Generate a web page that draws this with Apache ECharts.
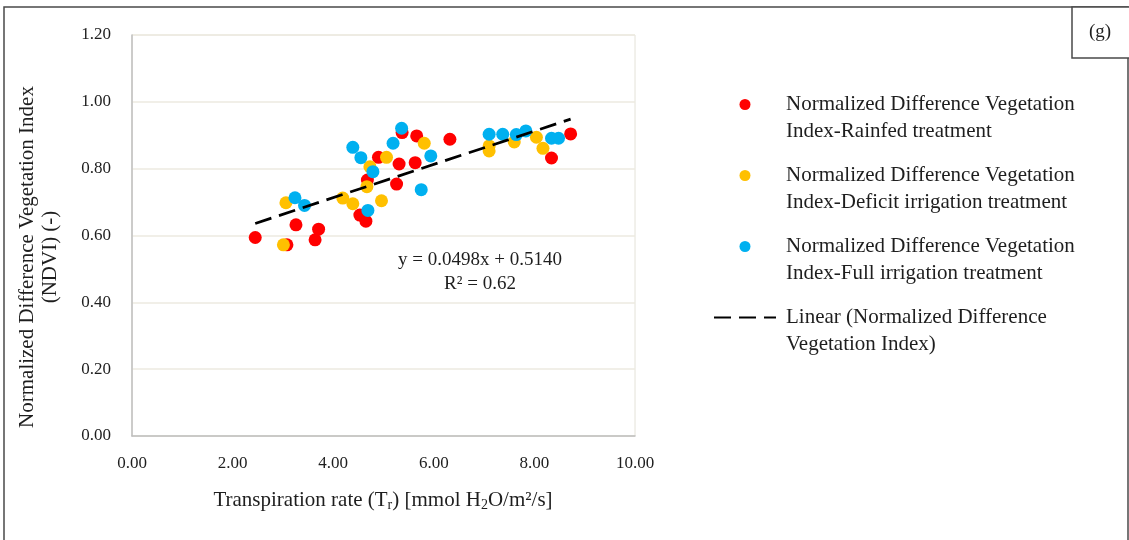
<!DOCTYPE html>
<html>
<head>
<meta charset="utf-8">
<script src="https://cdn.jsdelivr.net/npm/echarts@6/dist/echarts.min.js"></script>
<style>
  html, body { margin: 0; padding: 0; background: #ffffff; }
  #chart { width: 1129px; height: 540px; }
</style>
</head>
<body>
<div id="chart"></div>
<script>
// Transpiration rate (x) and NDVI (y) per treatment
const rainfedX = [2.45, 3.08, 3.26, 3.71, 3.64, 4.53, 4.65, 4.68, 4.90, 5.26, 5.31, 5.37, 5.66, 5.63, 6.32, 8.34, 8.72];
const rainfedY = [0.594, 0.572, 0.632, 0.619, 0.587, 0.661, 0.643, 0.766, 0.834, 0.754, 0.814, 0.908, 0.898, 0.818, 0.888, 0.832, 0.904];

const deficitX = [3.06, 3.01, 4.19, 4.39, 4.67, 4.73, 4.96, 5.06, 5.81, 7.10, 7.10, 7.60, 8.04, 8.17];
const deficitY = [0.698, 0.572, 0.712, 0.695, 0.746, 0.806, 0.704, 0.834, 0.876, 0.868, 0.853, 0.880, 0.894, 0.861];

const fullX = [3.24, 3.43, 4.39, 4.55, 4.79, 4.69, 5.19, 5.36, 5.94, 5.75, 7.10, 7.37, 7.64, 7.83, 8.34, 8.48];
const fullY = [0.713, 0.690, 0.864, 0.833, 0.791, 0.675, 0.876, 0.921, 0.838, 0.737, 0.903, 0.903, 0.902, 0.913, 0.891, 0.891];

// Fitted trend line as stated in the equation label
const slope = 0.0498;
const intercept = 0.5140;
const rSquared = 0.62;

const seriesNames = [
  'Normalized Difference Vegetation\nIndex-Rainfed treatment',
  'Normalized Difference Vegetation\nIndex-Deficit irrigation treatment',
  'Normalized Difference Vegetation\nIndex-Full irrigation treatment',
  'Linear (Normalized Difference\nVegetation Index)'
];
const xTicks = [0, 2, 4, 6, 8, 10];
const yTicks = [0, 0.2, 0.4, 0.6, 0.8, 1.0, 1.2];

const FONT = '"Liberation Serif", "Times New Roman", serif';
const TEXT = '#1e1e1e';

const pairs = (xs, ys) => xs.map((x, i) => [x, ys[i]]);
const allX = rainfedX.concat(deficitX, fullX);
const xMin = Math.min(...allX);
const xMax = Math.max(...allX);
const trend = [[xMin, slope * xMin + intercept], [xMax, slope * xMax + intercept]];

const chart = echarts.init(document.getElementById('chart'), null, { renderer: 'canvas' });

const scatterBase = { type: 'scatter', symbol: 'circle', symbolSize: 13, z: 2 };

chart.setOption({
  animation: false,
  backgroundColor: '#ffffff',
  grid: {
    left: 132, top: 35, width: 503, height: 401,
    show: true, borderColor: '#e4e2d8', borderWidth: 1, backgroundColor: 'transparent'
  },
  xAxis: {
    type: 'value', min: xTicks[0], max: xTicks[xTicks.length - 1], interval: 2,
    axisLine: { show: true, lineStyle: { color: '#bfbfbf', width: 1.5 } },
    axisTick: { show: false },
    splitLine: { show: false },
    axisLabel: {
      margin: 19, fontFamily: FONT, fontSize: 17, color: TEXT,
      formatter: v => v.toFixed(2)
    }
  },
  yAxis: {
    type: 'value', min: yTicks[0], max: yTicks[yTicks.length - 1], interval: 0.2,
    axisLine: { show: true, lineStyle: { color: '#bfbfbf', width: 1.5 } },
    axisTick: { show: false },
    splitLine: { show: true, lineStyle: { color: '#eceae0', width: 1.5 } },
    axisLabel: {
      margin: 21, fontFamily: FONT, fontSize: 17, color: TEXT,
      formatter: v => v.toFixed(2)
    }
  },
  legend: {
    orient: 'vertical',
    left: 713, top: 64,
    padding: 0,
    itemWidth: 62, itemHeight: 11,
    itemGap: -10,
    data: [
      { name: seriesNames[0] },
      { name: seriesNames[1] },
      { name: seriesNames[2] },
      { name: seriesNames[3], itemStyle: { opacity: 0, borderWidth: 0 } }
    ],
    // leading blank line puts the first text line level with the icon
    formatter: name => '\n' + name,
    textStyle: {
      fontFamily: FONT, fontSize: 21, color: TEXT,
      lineHeight: 27, padding: [0, 0, 0, 5]
    }
  },
  series: [
    Object.assign({}, scatterBase, { name: seriesNames[0], itemStyle: { color: '#ff0000', opacity: 1 }, data: pairs(rainfedX, rainfedY) }),
    Object.assign({}, scatterBase, { name: seriesNames[1], itemStyle: { color: '#ffc000', opacity: 1 }, data: pairs(deficitX, deficitY) }),
    Object.assign({}, scatterBase, { name: seriesNames[2], itemStyle: { color: '#00b0f0', opacity: 1 }, data: pairs(fullX, fullY) }),
    {
      type: 'line', name: seriesNames[3], data: trend, z: 5,
      symbol: 'none', showSymbol: false,
      itemStyle: { color: '#000000' },
      lineStyle: { color: '#000000', width: 2.75, type: [17, 8] }
    }
  ],
  graphic: [
    // outer frame
    { type: 'rect', silent: true, shape: { x: 4, y: 7, width: 1124, height: 560 },
      style: { fill: 'none', stroke: '#4a4a4a', lineWidth: 1.5 } },
    // panel tag box
    { type: 'rect', silent: true, shape: { x: 1072, y: 7, width: 60, height: 51 },
      style: { fill: '#ffffff', stroke: '#4a4a4a', lineWidth: 1.5 } },
    { type: 'text', silent: true, x: 1100, y: 32,
      style: { text: '(g)', font: '19px ' + FONT, fill: TEXT, align: 'center', verticalAlign: 'middle' } },
    // y-axis title
    { type: 'text', silent: true, x: 39, y: 257, rotation: Math.PI / 2,
      style: {
        text: 'Normalized Difference Vegetation Index\n(NDVI) (-)',
        font: '21px ' + FONT, lineHeight: 23, fill: TEXT, align: 'center', verticalAlign: 'middle'
      } },
    // x-axis title with subscripts
    { type: 'text', silent: true, x: 383, y: 500,
      style: {
        text: 'Transpiration rate (T{s|r}) [mmol H{s|2}O/m²/s]',
        font: '21px ' + FONT, fill: TEXT, align: 'center', verticalAlign: 'middle',
        rich: { s: { fontFamily: FONT, fontSize: 14, padding: [10, 0, 0, 0], fill: TEXT } }
      } },
    // regression equation and R²
    { type: 'text', silent: true, x: 480, y: 260,
      style: {
        text: 'y = ' + slope.toFixed(4) + 'x + ' + intercept.toFixed(4),
        font: '19px ' + FONT, fill: TEXT, align: 'center', verticalAlign: 'middle'
      } },
    { type: 'text', silent: true, x: 480, y: 284,
      style: {
        text: 'R² = ' + rSquared.toFixed(2),
        font: '19px ' + FONT, fill: TEXT, align: 'center', verticalAlign: 'middle'
      } }
  ]
});
</script>
</body>
</html>
